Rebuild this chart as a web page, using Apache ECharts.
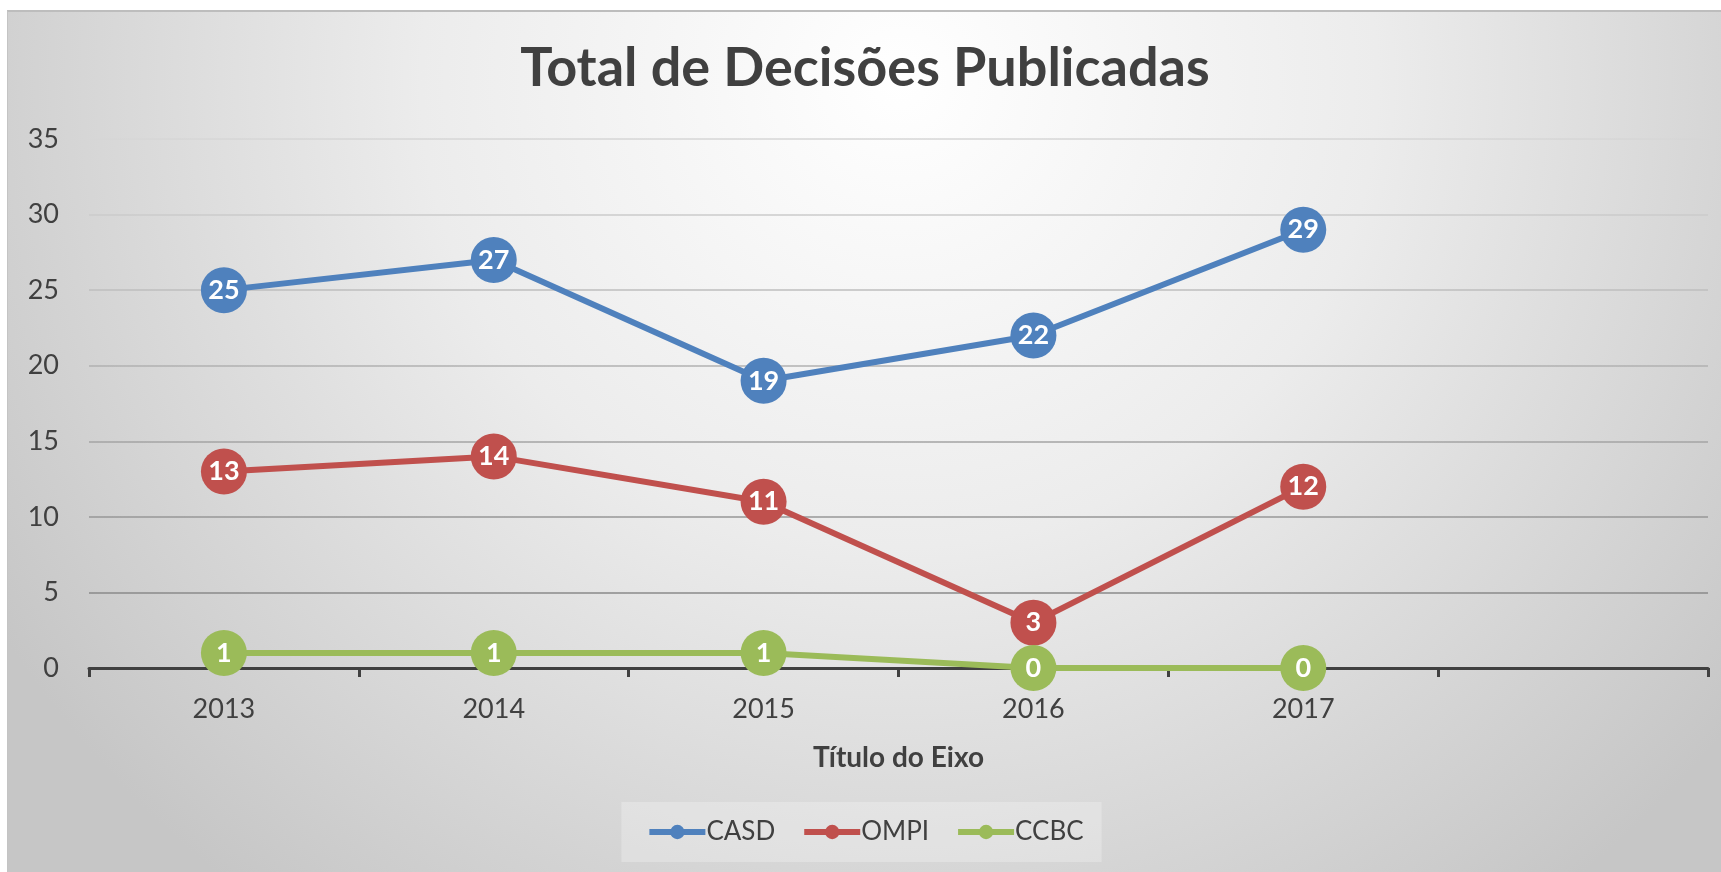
<!DOCTYPE html>
<html>
<head>
<meta charset="utf-8">
<script src="https://cdn.jsdelivr.net/npm/echarts@6/dist/echarts.min.js"></script>
<style>
  html, body { margin: 0; padding: 0; background: #fff; }
  #grafico {
    position: absolute; left: 7px; top: 10px; width: 1714px; height: 862px;
    border-top: 2px solid #bdbdbd; border-left: 1px solid #c4c4c4;
    background: radial-gradient(ellipse 62% 120% at 52% 8%, #ffffff 0%, #ececec 45%, #c6c6c6 100%);
  }
</style>
</head>
<body>
<div id="grafico"></div>
<script>
// dados do gráfico
var anos = ['2013', '2014', '2015', '2016', '2017', ''];
var casd = [25, 27, 19, 22, 29];
var ompi = [13, 14, 11, 3, 12];
var ccbc = [1, 1, 1, 0, 0];

var fonte = 'Lato, "Noto Sans", sans-serif';
var cinza = '#404040';

function serie(nome, cor, dados) {
    return {
        name: nome,
        type: 'line',
        data: dados,
        symbol: 'circle',
        symbolSize: 46,
        color: cor,
        lineStyle: { width: 6, color: cor },
        itemStyle: { color: cor },
        label: {
            show: true,
            position: 'inside',
            color: '#fff',
            fontFamily: fonte,
            fontWeight: 'bold',
            fontSize: 27
        },
        emphasis: { disabled: true },
        z: 3
    };
}

var myChart = echarts.init(document.getElementById('grafico'));

var option = {
    backgroundColor: 'transparent',
    animation: false,
    title: {
        text: 'Total de Decisões Publicadas',
        left: 'center',
        top: 30,
        padding: 0,
        textStyle: { fontFamily: fonte, fontWeight: 'bold', fontSize: 54, color: cinza }
    },
    legend: {
        top: 790,
        left: 'center',
        padding: [17, 18, 17, 25],
        itemGap: 26,
        itemWidth: 56,
        itemHeight: 18,
        lineStyle: { width: 6 },
        backgroundColor: 'rgba(255,255,255,0.25)',
        textStyle: { fontFamily: fonte, fontSize: 26, color: cinza, padding: [0, 0, 0, -4] },
        data: ['CASD', 'OMPI', 'CCBC']
    },
    grid: { left: 81, right: 14, top: 127, bottom: 206 },
    xAxis: {
        type: 'category',
        data: anos,
        boundaryGap: true,
        name: 'Título do Eixo',
        nameLocation: 'middle',
        nameGap: 76,
        nameTextStyle: { fontFamily: fonte, fontWeight: 'bold', fontSize: 28, color: cinza },
        axisLine: { lineStyle: { color: cinza, width: 3 } },
        axisTick: { show: true, interval: 0, length: 9, lineStyle: { color: cinza, width: 3 } },
        axisLabel: { margin: 28, fontFamily: fonte, fontSize: 27, color: cinza, interval: 0 },
        z: 2
    },
    yAxis: {
        type: 'value',
        min: 0,
        max: 35,
        interval: 5,
        axisLine: { show: false },
        axisTick: { show: false },
        axisLabel: { margin: 30, fontFamily: fonte, fontSize: 27, color: cinza },
        splitLine: {
            lineStyle: {
                width: 1.5,
                color: {
                    type: 'linear', global: true, x: 0, y: 139, x2: 0, y2: 670,
                    colorStops: [{ offset: 0, color: '#d6d6d6' }, { offset: 1, color: '#7a7a7a' }]
                }
            }
        }
    },
    series: [
        serie('CASD', '#4F81BD', casd),
        serie('OMPI', '#C0504D', ompi),
        serie('CCBC', '#9BBB59', ccbc)
    ]
};

myChart.setOption(option);
</script>
</body>
</html>
